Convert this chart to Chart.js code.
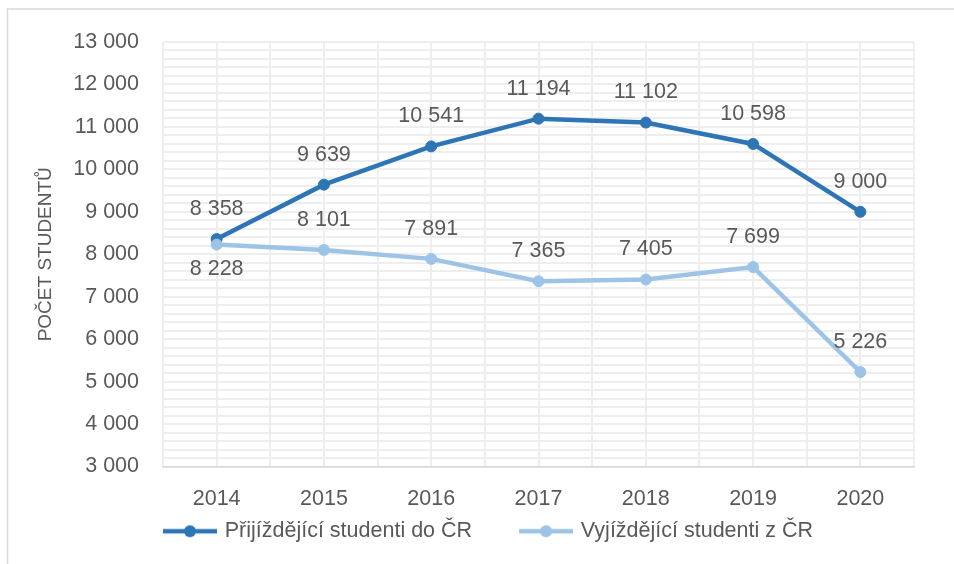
<!DOCTYPE html>
<html>
<head>
<meta charset="utf-8">
<script src="https://cdn.jsdelivr.net/npm/chart.js@4/dist/chart.umd.min.js"></script>
<style>
  html, body { margin: 0; padding: 0; background: #fff; }
  #wrap { width: 954px; height: 564px; }
</style>
</head>
<body>
<div id="wrap"><canvas id="chart" width="954" height="564"></canvas></div>
<script>
'use strict';

// data
const years = [2014, 2015, 2016, 2017, 2018, 2019, 2020];
const incoming = [8358, 9639, 10541, 11194, 11102, 10598, 9000];
const outgoing = [8228, 8101, 7891, 7365, 7405, 7699, 5226];
const yTicksMajor = [3000, 4000, 5000, 6000, 7000, 8000, 9000, 10000, 11000, 12000, 13000];

const DARK = '#2e75b6';
const LIGHT = '#9dc3e6';
const TEXT = '#595959';
const FONT = "'Liberation Sans', Arial, sans-serif";
const LEGEND_BOX = 88;

function fmt(v) {
  return String(v).replace(/\B(?=(\d{3})+(?!\d))/g, ' ');
}

// line + marker legend symbol, drawn at the right end of a wider box
// so the legend items get the wide gap of the original
function legendSymbol(color) {
  const c = document.createElement('canvas');
  c.width = LEGEND_BOX + 6;
  c.height = 14;
  const g = c.getContext('2d');
  const x0 = c.width - 54;
  g.strokeStyle = color;
  g.lineWidth = 4.5;
  g.beginPath();
  g.moveTo(x0, 7);
  g.lineTo(x0 + 54, 7);
  g.stroke();
  g.fillStyle = color;
  g.beginPath();
  g.arc(x0 + 27, 7, 6, 0, Math.PI * 2);
  g.fill();
  return c;
}

const frame = {
  id: 'frame',
  beforeDraw(chart) {
    const ctx = chart.ctx;
    ctx.save();
    ctx.strokeStyle = '#d9d9d9';
    ctx.lineWidth = 1.5;
    ctx.strokeRect(7.5, 9, 1000, 1000);
    ctx.restore();
  }
};

const valueLabels = {
  id: 'valueLabels',
  afterDatasetsDraw(chart) {
    const ctx = chart.ctx;
    ctx.save();
    ctx.font = '21.5px ' + FONT;
    ctx.fillStyle = TEXT;
    ctx.textAlign = 'center';
    ctx.textBaseline = 'middle';
    chart.data.datasets.forEach((ds, i) => {
      const meta = chart.getDatasetMeta(i);
      const below = ds.labelsBelow || [];
      meta.data.forEach((pt, j) => {
        const dy = below.includes(j) ? 25 : -30;
        ctx.fillText(fmt(ds.data[j]), pt.x, pt.y + dy);
      });
    });
    ctx.restore();
  }
};

new Chart(document.getElementById('chart'), {
  type: 'line',
  data: {
    labels: years,
    datasets: [{
      label: 'Přijíždějící studenti do ČR',
      data: incoming,
      borderColor: DARK,
      backgroundColor: DARK,
      borderWidth: 4.5,
      pointRadius: 5.5,
      pointBorderWidth: 1,
      tension: 0,
      order: 1
    }, {
      label: 'Vyjíždějící studenti z ČR',
      data: outgoing,
      borderColor: LIGHT,
      backgroundColor: LIGHT,
      borderWidth: 4.5,
      pointRadius: 5.5,
      pointBorderWidth: 1,
      tension: 0,
      order: 0,
      labelsBelow: [0]
    }]
  },
  options: {
    responsive: false,
    animation: false,
    layout: { padding: { top: 42, right: 15, bottom: 12, left: 0 } },
    plugins: {
      tooltip: { enabled: false },
      legend: {
        position: 'bottom',
        labels: {
          usePointStyle: true,
          pointStyleWidth: LEGEND_BOX,
          padding: 10,
          color: TEXT,
          font: { family: FONT, size: 21.5 },
          generateLabels(chart) {
            return chart.data.datasets.map((ds, i) => ({
              text: ds.label,
              fontColor: TEXT,
              pointStyle: legendSymbol(ds.borderColor),
              datasetIndex: i,
              lineWidth: 0,
              strokeStyle: 'transparent',
              fillStyle: 'transparent'
            }));
          }
        }
      }
    },
    scales: {
      x: {
        type: 'linear',
        min: 2013.5,
        max: 2020.5,
        afterFit(scale) { scale.height = 44; },
        ticks: {
          stepSize: 0.5,
          autoSkip: false,
          maxRotation: 0,
          padding: 20,
          color: TEXT,
          font: { family: FONT, size: 21.5 },
          callback: v => Number.isInteger(v) ? String(v) : ''
        },
        grid: { color: '#eeeeee', lineWidth: 2, drawTicks: false },
        border: { color: '#d9d9d9', width: 1.5 }
      },
      y: {
        min: 3000,
        max: 13000,
        afterFit(scale) { scale.width = 163; },
        title: {
          display: true,
          text: 'POČET STUDENTŮ',
          color: TEXT,
          font: { family: FONT, size: 19 },
          padding: { top: 34, bottom: 0 }
        },
        ticks: {
          stepSize: 200,
          autoSkip: false,
          padding: 24,
          color: TEXT,
          font: { family: FONT, size: 21.5 },
          callback: v => yTicksMajor.includes(v) ? fmt(v) : ''
        },
        grid: { color: '#eeeeee', lineWidth: 2, drawTicks: false },
        border: { display: false }
      },
      // empty right margin so the plot ends where the original does
      spacer: {
        type: 'linear',
        position: 'right',
        afterFit(scale) { scale.width = 25; },
        ticks: { display: false },
        grid: { display: false },
        border: { display: false }
      }
    }
  },
  plugins: [frame, valueLabels]
});
</script>
</body>
</html>
